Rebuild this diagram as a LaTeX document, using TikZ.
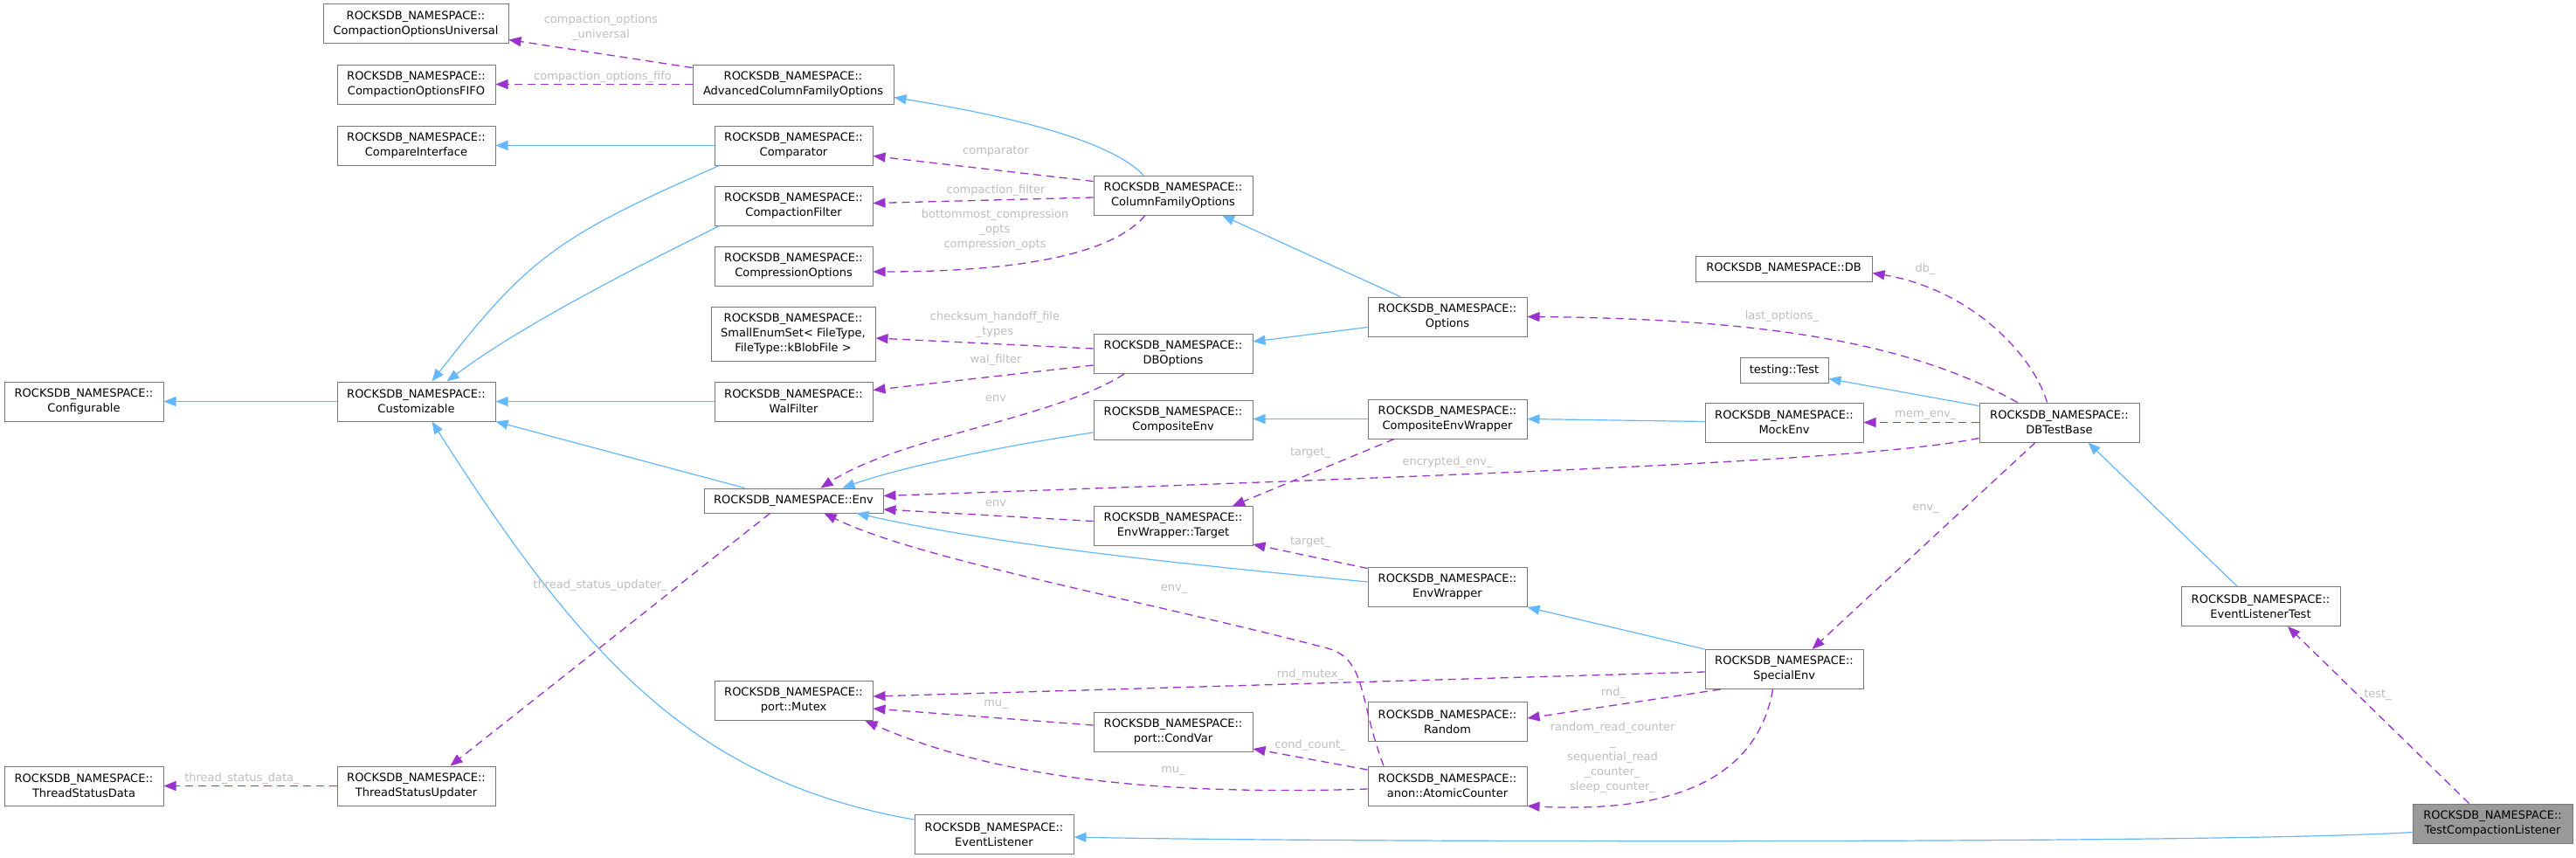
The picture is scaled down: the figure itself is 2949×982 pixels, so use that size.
\documentclass[tikz,border=0pt]{standalone}
\usepackage{fontspec}
\setmainfont{DejaVu Sans}
\usetikzlibrary{arrows.meta,calc}
\definecolor{cborder}{HTML}{777777}
\definecolor{cblue}{HTML}{63B8FF}
\definecolor{cpurple}{HTML}{9A32CD}
\definecolor{clabel}{HTML}{BEBEBE}
\definecolor{chl}{HTML}{999999}
\newcommand\nfont{\fontsize{13}{17}\selectfont}
\tikzset{
  cls/.style={draw=cborder, fill=white, line width=1pt, minimum width=181pt, minimum height=45pt, inner sep=0pt, align=center, font=\nfont, text=black},
  one/.style={minimum height=29pt},
  hl/.style={fill=chl},
  inh/.style={draw=cblue, line width=1.2pt, -{Triangle[length=14pt,width=11pt]}},
  use/.style={draw=cpurple, line width=1.3pt, dash pattern=on 9pt off 6pt, -{Triangle[length=14pt,width=11pt]}},
  lbl/.style={text=clabel, font=\nfont, align=center, inner sep=0pt}
}
\begin{document}
\begin{tikzpicture}[x=1pt,y=-1pt]
\useasboundingbox[fill=white] (0,0) rectangle (2949,982);
% ---------- nodes ----------
\node[cls, minimum width=212pt] (cou) at (476,27.5) {ROCKSDB\_NAMESPACE::\\CompactionOptionsUniversal};
\node[cls] (cfifo) at (476.5,96.5) {ROCKSDB\_NAMESPACE::\\CompactionOptionsFIFO};
\node[cls, minimum width=230pt] (acfo) at (908,96.5) {ROCKSDB\_NAMESPACE::\\AdvancedColumnFamilyOptions};
\node[cls] (cmpi) at (476.5,166.5) {ROCKSDB\_NAMESPACE::\\CompareInterface};
\node[cls] (cmp) at (908.5,166.5) {ROCKSDB\_NAMESPACE::\\Comparator};
\node[cls] (cf) at (908.5,235.5) {ROCKSDB\_NAMESPACE::\\CompactionFilter};
\node[cls] (co) at (908.5,304.5) {ROCKSDB\_NAMESPACE::\\CompressionOptions};
\node[cls, minimum width=188pt, minimum height=62pt] (ses) at (908,382) {ROCKSDB\_NAMESPACE::\\SmallEnumSet< FileType,\\FileType::kBlobFile >};
\node[cls, minimum width=182pt] (cfg) at (96,459.5) {ROCKSDB\_NAMESPACE::\\Configurable};
\node[cls] (cust) at (476.5,459.5) {ROCKSDB\_NAMESPACE::\\Customizable};
\node[cls] (wal) at (908.5,459.5) {ROCKSDB\_NAMESPACE::\\WalFilter};
\node[cls, minimum width=182pt] (cfopt) at (1343,223.5) {ROCKSDB\_NAMESPACE::\\ColumnFamilyOptions};
\node[cls, minimum width=182pt] (opt) at (1657,362.5) {ROCKSDB\_NAMESPACE::\\Options};
\node[cls, minimum width=182pt] (dbo) at (1343,405) {ROCKSDB\_NAMESPACE::\\DBOptions};
\node[cls, minimum width=182pt] (cenv) at (1343,481) {ROCKSDB\_NAMESPACE::\\CompositeEnv};
\node[cls, minimum width=182pt] (cew) at (1657,479.5) {ROCKSDB\_NAMESPACE::\\CompositeEnvWrapper};
\node[cls, one, minimum width=202pt] (db) at (2042,307.5) {ROCKSDB\_NAMESPACE::DB};
\node[cls, one, minimum width=101pt] (test) at (2042.5,423.5) {testing::Test};
\node[cls] (mock) at (2042.5,483.5) {ROCKSDB\_NAMESPACE::\\MockEnv};
\node[cls, minimum width=183pt] (dbtb) at (2357.5,483.5) {ROCKSDB\_NAMESPACE::\\DBTestBase};
\node[cls, minimum width=182pt] (elt) at (2588,694) {ROCKSDB\_NAMESPACE::\\EventListenerTest};
\node[cls] (senv) at (2042.5,766) {ROCKSDB\_NAMESPACE::\\SpecialEnv};
\node[cls, hl, minimum width=183pt] (tcl) at (2853.5,942.5) {ROCKSDB\_NAMESPACE::\\TestCompactionListener};
\node[cls, one, minimum width=205pt, minimum height=28pt] (env) at (908.5,573) {ROCKSDB\_NAMESPACE::Env};
\node[cls] (mutex) at (908.5,802) {ROCKSDB\_NAMESPACE::\\port::Mutex};
\node[cls, minimum width=182pt] (tsd) at (96,899.5) {ROCKSDB\_NAMESPACE::\\ThreadStatusData};
\node[cls] (tsu) at (476.5,899.5) {ROCKSDB\_NAMESPACE::\\ThreadStatusUpdater};
\node[cls, minimum width=182pt] (ewt) at (1343,602) {ROCKSDB\_NAMESPACE::\\EnvWrapper::Target};
\node[cls, minimum width=182pt] (ew) at (1657,672) {ROCKSDB\_NAMESPACE::\\EnvWrapper};
\node[cls, minimum width=182pt] (rnd) at (1657,826) {ROCKSDB\_NAMESPACE::\\Random};
\node[cls, minimum width=182pt] (cv) at (1343,838) {ROCKSDB\_NAMESPACE::\\port::CondVar};
\node[cls, minimum width=182pt] (ac) at (1657,899.5) {ROCKSDB\_NAMESPACE::\\anon::AtomicCounter};
\node[cls, minimum width=182pt] (el) at (1138,955) {ROCKSDB\_NAMESPACE::\\EventListener};
% ---------- inheritance (blue) ----------
\draw[inh] ($(cfopt.north)+(-34,0)$) .. controls (1280,170) and (1200,140) .. ($(acfo.east)+(0,15)$);
\draw[inh] (cmp.west) -- (cmpi.east);
\draw[inh] ($(cmp.south west)+(6,0)$) .. controls (637,271) and (604,296) .. ($(cust.north)+(18,0)$);
\draw[inh] ($(cf.south west)+(6,0)$) .. controls (740,300) and (600,370) .. ($(cust.north)+(35,0)$);
\draw[inh] (cust.west) -- (cfg.east);
\draw[inh] (wal.west) -- (cust.east);
\draw[inh] ($(env.north)+(-56,0)$) -- (cust.south east);
\draw[inh] ($(el.west)+(0,-17)$) .. controls (800,895) and (672,761) .. ($(cust.south)+(18,0)$);
\draw[inh] ($(opt.north)+(-54,0)$) -- ($(cfopt.south)+(56,0)$);
\draw[inh] ($(opt.west)+(0,12)$) -- ($(dbo.east)+(0,-14)$);
\draw[inh] (cew.west) -- (cew.west -| cenv.east);
\draw[inh] ($(mock.west)+(0,-1)$) -- (cew.east);
\draw[inh] ($(cenv.west)+(0,14)$) .. controls (1150,510) and (1030,535) .. ($(env.north)+(56,0)$);
\draw[inh] ($(ew.west)+(0,-6)$) .. controls (1350,645) and (1150,625) .. ($(env.south east)+(-31,0)$);
\draw[inh] (senv.north west) -- (ew.south east);
\draw[inh] ($(dbtb.north west)+(0,4)$) -- ($(test.east)+(0,10)$);
\draw[inh] ($(elt.north)+(-27,0)$) -- ($(dbtb.south)+(33,0)$);
\draw[inh] ($(tcl.west)+(0,10)$) .. controls (2550,966) and (1500,964) .. ($(el.east)+(0,3)$);
% ---------- usage (purple dashed) ----------
\draw[use] ($(acfo.north west)+(0,4)$) -- ($(cou.east)+(0,18)$);
\draw[use] (acfo.west) -- (cfifo.east);
\draw[use] ($(cfopt.west)+(0,-16)$) -- ($(cmp.east)+(0,12)$);
\draw[use] ($(cfopt.west)+(0,2.5)$) -- ($(cf.east)+(0,-3)$);
\draw[use] ($(cfopt.south)+(-32,0)$) .. controls (1270,295) and (1150,311) .. ($(co.east)+(0,6.5)$);
\draw[use] ($(dbo.west)+(0,-6)$) -- ($(ses.east)+(0,5)$);
\draw[use] ($(dbo.west)+(0,13)$) -- ($(wal.east)+(0,-13)$);
\draw[use] ($(dbo.south)+(-56,0)$) .. controls (1210,478) and (1030,500) .. ($(env.north)+(31,0)$);
\draw[use] ($(dbtb.north)+(-14,0)$) .. controls (2325,400) and (2250,330) .. ($(db.east)+(0,5)$);
\draw[use] ($(dbtb.north)+(-48,0)$) .. controls (2200,400) and (2050,365) .. (opt.east);
\draw[use] (dbtb.west) -- (mock.east);
\draw[use] ($(dbtb.west)+(0,18)$) .. controls (2150,525) and (1800,540) .. ($(env.east)+(0,-5.5)$);
\draw[use] ($(dbtb.south)+(-27.5,0)$) -- ($(senv.north)+(32,0)$);
\draw[use] ($(cew.south)+(-61,0)$) -- ($(ewt.north)+(68,0)$);
\draw[use] ($(ewt.west)+(0,-5.5)$) -- ($(env.east)+(0,10)$);
\draw[use] ($(ew.north west)+(0,1.5)$) -- ($(ewt.east)+(0,21)$);
\draw[use] ($(ac.north)+(-73,0)$) .. controls (1555,800) and (1565,755) .. (1520,742) .. controls (1300,685) and (1050,640) .. ($(env.south)+(35,0)$);
\draw[use] ($(senv.west)+(0,3)$) -- ($(mutex.east)+(0,-5)$);
\draw[use] ($(senv.south west)+(18,0)$) -- ($(rnd.east)+(0,-4)$);
\draw[use] ($(senv.south)+(-13,0)$) .. controls (2010,900) and (1900,930) .. (ac.south east);
\draw[use] ($(cv.west)+(0,-8)$) -- ($(mutex.east)+(0,9)$);
\draw[use] ($(ac.west)+(0,-18.5)$) -- ($(cv.east)+(0,19)$);
\draw[use] ($(ac.west)+(0,3.5)$) .. controls (1350,910) and (1150,895) .. ($(mutex.south east)+(-9,0)$);
\draw[use] ($(env.south)+(-27,0)$) -- ($(tsu.north)+(39,0)$);
\draw[use] (tsu.west) -- (tsd.east);
\draw[use] ($(tcl.north)+(-27,0)$) -- ($(elt.south)+(31,0)$);
% ---------- labels ----------
\node[lbl] (l1) at (688,31.5) {compaction\_options\\\_universal};
\node[lbl] (l2) at (690,88.3) {compaction\_options\_fifo};
\node[lbl] (l3) at (1140,173.3) {comparator};
\node[lbl] (l4) at (1140,218.3) {compaction\_filter};
\node[lbl] (l5) at (1139,262.7) {bottommost\_compression\\\_opts\\compression\_opts};
\node[lbl] (l6) at (1139,372) {checksum\_handoff\_file\\\_types};
\node[lbl] (l7) at (1140,411.7) {wal\_filter};
\node[lbl] (l8) at (1140,456) {env};
\node[lbl] (l9) at (2204,308.3) {db\_};
\node[lbl] (l10) at (2040,361.7) {last\_options\_};
\node[lbl] (l11) at (2204.5,475) {mem\_env\_};
\node[lbl] (l12) at (2204.5,582.7) {env\_};
\node[lbl] (l13) at (1657,529) {encrypted\_env\_};
\node[lbl] (l14) at (1500,518) {target\_};
\node[lbl] (l15) at (1140,576) {env};
\node[lbl] (l16) at (1500,620) {target\_};
\node[lbl] (l17) at (1344,674) {env\_};
\node[lbl] (l18) at (1500,772) {rnd\_mutex\_};
\node[lbl] (l19) at (1847,793.5) {rnd\_};
\node[lbl] (l20) at (1140,806) {mu\_};
\node[lbl] (l21) at (1500,853) {cond\_count\_};
\node[lbl] (l22) at (1343,882) {mu\_};
\node[lbl] (l23) at (1846,867) {random\_read\_counter\\\_\\sequential\_read\hspace*{44pt}\\\_counter\_\\sleep\_counter\_};
\node[lbl] (l24) at (687,670) {thread\_status\_updater\_};
\node[lbl] (l25) at (277,891) {thread\_status\_data\_};
\node[lbl] (l26) at (2722,795) {test\_};
\end{tikzpicture}
\end{document}
